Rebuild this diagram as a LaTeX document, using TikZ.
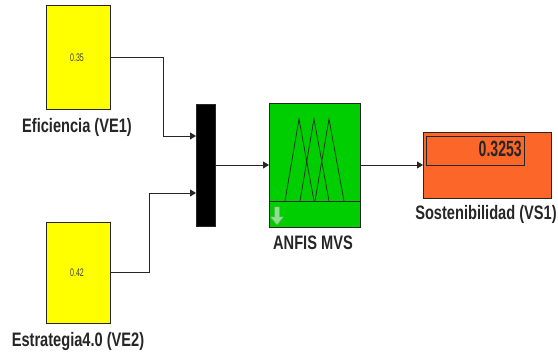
\documentclass[tikz,border=0pt]{standalone}
\usepackage{fontspec}
\newfontfamily\blkfont[FakeStretch=0.75]{Liberation Sans}
\newfontfamily\numfont[FakeStretch=0.64]{Liberation Sans}
\usetikzlibrary{positioning,shapes,arrows.meta,shadows}

\definecolor{constyellow}{RGB}{255,255,0}
\definecolor{fisgreen}{RGB}{0,206,0}
\definecolor{dispgreen}{RGB}{140,225,140}
\definecolor{disporange}{RGB}{252,102,40}

\begin{document}
\begin{tikzpicture}[x=1pt, y=1pt,
		block/.style={draw=black!85, line width=0.8pt, inner sep=0pt, outer sep=0pt,
			drop shadow={shadow xshift=1.2pt, shadow yshift=-1.2pt, fill=black!30}},
		wire/.style={-{Triangle[length=6pt, width=7pt]}, line width=0.8pt, black!85},
		blklabel/.style={anchor=base, inner sep=0pt, font=\blkfont\fontsize{19.5}{21}\selectfont\bfseries, text=black!85},
		constval/.style={anchor=base, inner sep=0pt, font=\numfont\fontsize{11}{12}\selectfont, text=black!75}]
				\useasboundingbox (0,0) rectangle (558,358);
				\node[block, fill=constyellow, minimum width=64, minimum height=104] (ve1) at (78,301) {};
				\node[block, fill=constyellow, minimum width=64, minimum height=101] (ve2) at (78,85.5) {};
				\node[constval] (val1) at (77,296) {0.35};
				\node[constval] (val2) at (77,81) {0.42};
				\node[blklabel] (lab1) at (77,225) {Eficiencia (VE1)};
				\node[blklabel] (lab2) at (78,11) {Estrategia4.0 (VE2)};
				\node[block, fill=black, minimum width=19, minimum height=122] (mux) at (205.5,193) {};
				\node[block, fill=fisgreen, minimum width=91, minimum height=124] (anfis) at (314.5,193) {};
				\node[blklabel] (lab3) at (313,108) {ANFIS MVS};
				\node[block, fill=disporange, minimum width=128, minimum height=66] (vs1) at (487,193) {};
				\node[draw=black!85, line width=0.7pt, inner sep=0pt, minimum width=98, minimum height=29] (screen) at (475,207.5) {};
				\node[anchor=base east, inner sep=0pt, font=\numfont\fontsize{22}{24}\selectfont\bfseries, text=black!85] (val3) at (522,201) {0.3253};
				\node[blklabel] (lab4) at (486,138) {Sostenibilidad (VS1)};
				% membership functions of the fis block
				\draw[line width=0.7pt, black!85] (269,157) -- (360,157);
				\draw[line width=0.7pt, black!85] (285,157) -- (299,239) -- (314,157);
				\draw[line width=0.7pt, black!85] (300,157) -- (314,239) -- (329,157);
				\draw[line width=0.7pt, black!85] (315,157) -- (329,239) -- (344,157);
				\draw[draw=green!45!black!60, fill=dispgreen, line width=0.5pt]
					(274.5,151) -- (279.5,151) -- (279.5,141) -- (283.5,141) -- (277,133)
					-- (270.5,141) -- (274.5,141) -- cycle;
				% signal lines
				\draw[wire] (ve1.east) -- ++(53,0) |- ([yshift=29pt]mux.west);
				\draw[wire] (ve2.east) -- ++(39,0) |- ([yshift=-28pt]mux.west);
				\draw[wire] (mux.east) -- (anfis.west);
				\draw[wire] (anfis.east) -- (vs1.west);
			\end{tikzpicture}
\end{document}
